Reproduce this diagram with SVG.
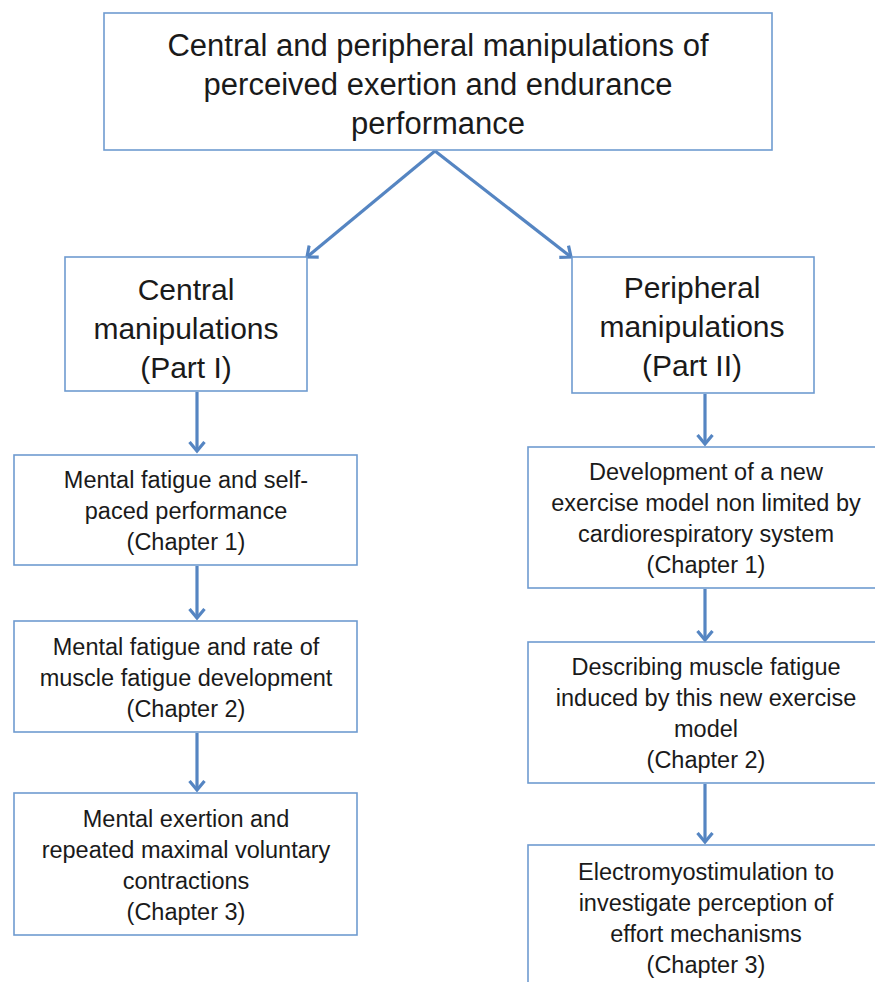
<svg xmlns="http://www.w3.org/2000/svg" width="875" height="982" viewBox="0 0 875 982">
<style>
.box{fill:#fff;stroke:#6f9bd0;stroke-width:1.6}
.t{font-family:"Liberation Sans",Arial,sans-serif;fill:#1a1a1a;text-anchor:middle}
.big{font-size:31px}
.mid{font-size:30px}
.sm{font-size:23.5px}
.con{stroke:#5585c2;stroke-width:3.2;fill:none;marker-end:url(#ah)}
</style>
<defs>
<marker id="ah" markerUnits="userSpaceOnUse" viewBox="-10 -10 20 20" refX="0" refY="0" markerWidth="20" markerHeight="20" orient="auto">
<polyline points="-9,-7.5 0,0 -9,7.5" fill="none" stroke="#5585c2" stroke-width="3.2" stroke-linejoin="miter"/>
</marker>
</defs>
<rect width="875" height="982" fill="#fff"/>
<g id="connectors">
<line class="con" x1="435" y1="151" x2="307" y2="257"/>
<line class="con" x1="435" y1="151" x2="571" y2="257"/>
<line class="con" x1="197" y1="392" x2="197" y2="451"/>
<line class="con" x1="197" y1="566" x2="197" y2="618"/>
<line class="con" x1="197" y1="733" x2="197" y2="790"/>
<line class="con" x1="705" y1="394" x2="705" y2="444"/>
<line class="con" x1="705" y1="589" x2="705" y2="640"/>
<line class="con" x1="705" y1="784" x2="705" y2="842"/>
</g>
<g id="top">
<rect class="box" x="104" y="13" width="668" height="137"/>
<text class="t big" x="438" y="56">Central and peripheral manipulations of</text>
<text class="t big" x="438" y="95">perceived exertion and endurance</text>
<text class="t big" x="438" y="134">performance</text>
</g>
<g id="central">
<rect class="box" x="65" y="257" width="242" height="134"/>
<text class="t mid" x="186" y="300">Central</text>
<text class="t mid" x="186" y="339">manipulations</text>
<text class="t mid" x="186" y="378">(Part I)</text>
</g>
<g id="peripheral">
<rect class="box" x="572" y="257" width="242" height="136"/>
<text class="t mid" x="692" y="298">Peripheral</text>
<text class="t mid" x="692" y="337">manipulations</text>
<text class="t mid" x="692" y="376">(Part II)</text>
</g>
<g id="c1">
<rect class="box" x="14" y="455" width="343" height="110"/>
<text class="t sm" x="186" y="488">Mental fatigue and self-</text>
<text class="t sm" x="186" y="519">paced performance</text>
<text class="t sm" x="186" y="550">(Chapter 1)</text>
</g>
<g id="c2">
<rect class="box" x="14" y="621" width="343" height="111"/>
<text class="t sm" x="186" y="655">Mental fatigue and rate of</text>
<text class="t sm" x="186" y="686">muscle fatigue development</text>
<text class="t sm" x="186" y="717">(Chapter 2)</text>
</g>
<g id="c3">
<rect class="box" x="14" y="793" width="343" height="142"/>
<text class="t sm" x="186" y="827">Mental exertion and</text>
<text class="t sm" x="186" y="858">repeated maximal voluntary</text>
<text class="t sm" x="186" y="889">contractions</text>
<text class="t sm" x="186" y="920">(Chapter 3)</text>
</g>
<g id="p1">
<rect class="box" x="528" y="447" width="357" height="141"/>
<text class="t sm" x="706" y="480">Development of a new</text>
<text class="t sm" x="706" y="511">exercise model non limited by</text>
<text class="t sm" x="706" y="542">cardiorespiratory system</text>
<text class="t sm" x="706" y="573">(Chapter 1)</text>
</g>
<g id="p2">
<rect class="box" x="528" y="642" width="357" height="141"/>
<text class="t sm" x="706" y="675">Describing muscle fatigue</text>
<text class="t sm" x="706" y="706">induced by this new exercise</text>
<text class="t sm" x="706" y="737">model</text>
<text class="t sm" x="706" y="768">(Chapter 2)</text>
</g>
<g id="p3">
<rect class="box" x="528" y="845" width="357" height="160"/>
<text class="t sm" x="706" y="880">Electromyostimulation to</text>
<text class="t sm" x="706" y="911">investigate perception of</text>
<text class="t sm" x="706" y="942">effort mechanisms</text>
<text class="t sm" x="706" y="973">(Chapter 3)</text>
</g>
</svg>
